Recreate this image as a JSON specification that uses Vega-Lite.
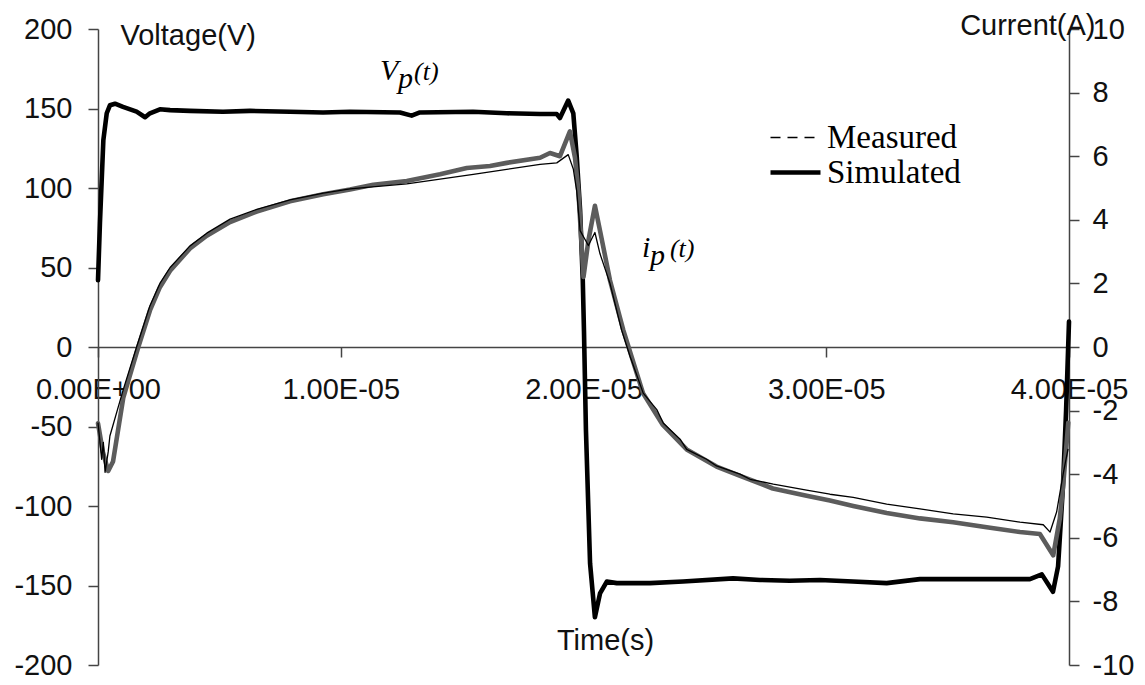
{
 "$schema": "https://vega.github.io/schema/vega-lite/v6.json",
 "width": 971,
 "height": 636,
 "autosize": {"type": "none"},
 "padding": {"left": 98, "top": 29, "right": 76, "bottom": 20},
 "background": "white",
 "config": {
  "view": {"stroke": null},
  "font": "Liberation Sans",
  "axis": {"grid": false, "labelFont": "Liberation Sans", "titleFont": "Liberation Sans", "labelFontSize": 29, "titleFontSize": 29, "titleFontWeight": "normal", "labelColor": "#111111", "titleColor": "#111111", "domainColor": "#444444", "tickColor": "#444444", "domainWidth": 1.5, "tickWidth": 1.5, "tickSize": 10, "labelFlush": false, "labelOverlap": false, "labelBound": false}
 },
 "datasets": {
  "traces": [
   {"t": 0, "value": 42, "q": "V", "source": "Simulated"},
   {"t": 0.08e-6, "value": 78, "q": "V", "source": "Simulated"},
   {"t": 0.22e-6, "value": 130, "q": "V", "source": "Simulated"},
   {"t": 0.36e-6, "value": 147, "q": "V", "source": "Simulated"},
   {"t": 0.49e-6, "value": 152, "q": "V", "source": "Simulated"},
   {"t": 0.70e-6, "value": 153, "q": "V", "source": "Simulated"},
   {"t": 1.03e-6, "value": 151, "q": "V", "source": "Simulated"},
   {"t": 1.59e-6, "value": 148, "q": "V", "source": "Simulated"},
   {"t": 1.94e-6, "value": 144.5, "q": "V", "source": "Simulated"},
   {"t": 2.14e-6, "value": 147, "q": "V", "source": "Simulated"},
   {"t": 2.55e-6, "value": 149.5, "q": "V", "source": "Simulated"},
   {"t": 2.97e-6, "value": 149, "q": "V", "source": "Simulated"},
   {"t": 3.79e-6, "value": 148.5, "q": "V", "source": "Simulated"},
   {"t": 5.15e-6, "value": 148, "q": "V", "source": "Simulated"},
   {"t": 6.26e-6, "value": 148.5, "q": "V", "source": "Simulated"},
   {"t": 7.91e-6, "value": 148, "q": "V", "source": "Simulated"},
   {"t": 9.27e-6, "value": 147.5, "q": "V", "source": "Simulated"},
   {"t": 10.38e-6, "value": 148, "q": "V", "source": "Simulated"},
   {"t": 12.44e-6, "value": 147.5, "q": "V", "source": "Simulated"},
   {"t": 12.92e-6, "value": 145.5, "q": "V", "source": "Simulated"},
   {"t": 13.26e-6, "value": 147.5, "q": "V", "source": "Simulated"},
   {"t": 15.45e-6, "value": 148, "q": "V", "source": "Simulated"},
   {"t": 16.84e-6, "value": 147, "q": "V", "source": "Simulated"},
   {"t": 18.21e-6, "value": 146.5, "q": "V", "source": "Simulated"},
   {"t": 18.90e-6, "value": 146.5, "q": "V", "source": "Simulated"},
   {"t": 19.03e-6, "value": 144, "q": "V", "source": "Simulated"},
   {"t": 19.37e-6, "value": 155, "q": "V", "source": "Simulated"},
   {"t": 19.58e-6, "value": 147, "q": "V", "source": "Simulated"},
   {"t": 19.72e-6, "value": 120, "q": "V", "source": "Simulated"},
   {"t": 19.86e-6, "value": 86, "q": "V", "source": "Simulated"},
   {"t": 19.97e-6, "value": 42, "q": "V", "source": "Simulated"},
   {"t": 20.02e-6, "value": 10, "q": "V", "source": "Simulated"},
   {"t": 20.10e-6, "value": -52, "q": "V", "source": "Simulated"},
   {"t": 20.27e-6, "value": -136, "q": "V", "source": "Simulated"},
   {"t": 20.47e-6, "value": -170, "q": "V", "source": "Simulated"},
   {"t": 20.68e-6, "value": -155, "q": "V", "source": "Simulated"},
   {"t": 20.96e-6, "value": -147.5, "q": "V", "source": "Simulated"},
   {"t": 21.37e-6, "value": -148.5, "q": "V", "source": "Simulated"},
   {"t": 22.74e-6, "value": -148.5, "q": "V", "source": "Simulated"},
   {"t": 24.10e-6, "value": -147.5, "q": "V", "source": "Simulated"},
   {"t": 26.16e-6, "value": -145.5, "q": "V", "source": "Simulated"},
   {"t": 27.27e-6, "value": -146.5, "q": "V", "source": "Simulated"},
   {"t": 28.5e-6, "value": -147, "q": "V", "source": "Simulated"},
   {"t": 29.74e-6, "value": -146.5, "q": "V", "source": "Simulated"},
   {"t": 31.10e-6, "value": -147.5, "q": "V", "source": "Simulated"},
   {"t": 32.49e-6, "value": -148.5, "q": "V", "source": "Simulated"},
   {"t": 33.86e-6, "value": -146, "q": "V", "source": "Simulated"},
   {"t": 38.39e-6, "value": -146, "q": "V", "source": "Simulated"},
   {"t": 38.88e-6, "value": -143, "q": "V", "source": "Simulated"},
   {"t": 39.34e-6, "value": -154, "q": "V", "source": "Simulated"},
   {"t": 39.55e-6, "value": -138, "q": "V", "source": "Simulated"},
   {"t": 39.75e-6, "value": -88, "q": "V", "source": "Simulated"},
   {"t": 39.88e-6, "value": -40, "q": "V", "source": "Simulated"},
   {"t": 40.0e-6, "value": 16, "q": "V", "source": "Simulated"},

   {"t": 0, "value": -2.4, "q": "I", "source": "Simulated"},
   {"t": 0.2e-6, "value": -3.3, "q": "I", "source": "Simulated"},
   {"t": 0.42e-6, "value": -3.9, "q": "I", "source": "Simulated"},
   {"t": 0.62e-6, "value": -3.6, "q": "I", "source": "Simulated"},
   {"t": 1.04e-6, "value": -1.6, "q": "I", "source": "Simulated"},
   {"t": 1.66e-6, "value": 0, "q": "I", "source": "Simulated"},
   {"t": 2.14e-6, "value": 1.15, "q": "I", "source": "Simulated"},
   {"t": 2.55e-6, "value": 1.88, "q": "I", "source": "Simulated"},
   {"t": 2.97e-6, "value": 2.4, "q": "I", "source": "Simulated"},
   {"t": 3.79e-6, "value": 3.1, "q": "I", "source": "Simulated"},
   {"t": 4.48e-6, "value": 3.5, "q": "I", "source": "Simulated"},
   {"t": 5.44e-6, "value": 3.93, "q": "I", "source": "Simulated"},
   {"t": 6.54e-6, "value": 4.26, "q": "I", "source": "Simulated"},
   {"t": 7.91e-6, "value": 4.58, "q": "I", "source": "Simulated"},
   {"t": 9.28e-6, "value": 4.8, "q": "I", "source": "Simulated"},
   {"t": 10.38e-6, "value": 4.95, "q": "I", "source": "Simulated"},
   {"t": 11.34e-6, "value": 5.1, "q": "I", "source": "Simulated"},
   {"t": 12.72e-6, "value": 5.22, "q": "I", "source": "Simulated"},
   {"t": 14.09e-6, "value": 5.43, "q": "I", "source": "Simulated"},
   {"t": 15.19e-6, "value": 5.63, "q": "I", "source": "Simulated"},
   {"t": 16.15e-6, "value": 5.69, "q": "I", "source": "Simulated"},
   {"t": 16.84e-6, "value": 5.79, "q": "I", "source": "Simulated"},
   {"t": 18.21e-6, "value": 5.95, "q": "I", "source": "Simulated"},
   {"t": 18.62e-6, "value": 6.1, "q": "I", "source": "Simulated"},
   {"t": 19.03e-6, "value": 6.0, "q": "I", "source": "Simulated"},
   {"t": 19.44e-6, "value": 6.78, "q": "I", "source": "Simulated"},
   {"t": 19.65e-6, "value": 5.95, "q": "I", "source": "Simulated"},
   {"t": 19.79e-6, "value": 4.9, "q": "I", "source": "Simulated"},
   {"t": 20.0e-6, "value": 2.2, "q": "I", "source": "Simulated"},
   {"t": 20.2e-6, "value": 3.34, "q": "I", "source": "Simulated"},
   {"t": 20.47e-6, "value": 4.44, "q": "I", "source": "Simulated"},
   {"t": 20.68e-6, "value": 3.66, "q": "I", "source": "Simulated"},
   {"t": 21.09e-6, "value": 2.1, "q": "I", "source": "Simulated"},
   {"t": 21.64e-6, "value": 0.53, "q": "I", "source": "Simulated"},
   {"t": 22.45e-6, "value": -1.45, "q": "I", "source": "Simulated"},
   {"t": 23.27e-6, "value": -2.45, "q": "I", "source": "Simulated"},
   {"t": 24.25e-6, "value": -3.22, "q": "I", "source": "Simulated"},
   {"t": 25.48e-6, "value": -3.76, "q": "I", "source": "Simulated"},
   {"t": 26.45e-6, "value": -4.05, "q": "I", "source": "Simulated"},
   {"t": 27.8e-6, "value": -4.45, "q": "I", "source": "Simulated"},
   {"t": 29.19e-6, "value": -4.68, "q": "I", "source": "Simulated"},
   {"t": 30.15e-6, "value": -4.83, "q": "I", "source": "Simulated"},
   {"t": 31.11e-6, "value": -5.0, "q": "I", "source": "Simulated"},
   {"t": 32.49e-6, "value": -5.22, "q": "I", "source": "Simulated"},
   {"t": 33.86e-6, "value": -5.39, "q": "I", "source": "Simulated"},
   {"t": 35.23e-6, "value": -5.51, "q": "I", "source": "Simulated"},
   {"t": 36.61e-6, "value": -5.67, "q": "I", "source": "Simulated"},
   {"t": 37.98e-6, "value": -5.82, "q": "I", "source": "Simulated"},
   {"t": 38.8e-6, "value": -5.88, "q": "I", "source": "Simulated"},
   {"t": 39.35e-6, "value": -6.55, "q": "I", "source": "Simulated"},
   {"t": 39.62e-6, "value": -5.4, "q": "I", "source": "Simulated"},
   {"t": 39.77e-6, "value": -4.25, "q": "I", "source": "Simulated"},
   {"t": 39.97e-6, "value": -2.38, "q": "I", "source": "Simulated"},

   {"t": 0, "value": -2.38, "q": "I", "source": "Measured"},
   {"t": 0.15e-6, "value": -3.53, "q": "I", "source": "Measured"},
   {"t": 0.22e-6, "value": -3.0, "q": "I", "source": "Measured"},
   {"t": 0.29e-6, "value": -3.94, "q": "I", "source": "Measured"},
   {"t": 0.42e-6, "value": -3.3, "q": "I", "source": "Measured"},
   {"t": 0.49e-6, "value": -2.8, "q": "I", "source": "Measured"},
   {"t": 1.04e-6, "value": -1.34, "q": "I", "source": "Measured"},
   {"t": 1.59e-6, "value": 0, "q": "I", "source": "Measured"},
   {"t": 2.14e-6, "value": 1.3, "q": "I", "source": "Measured"},
   {"t": 2.55e-6, "value": 2.0, "q": "I", "source": "Measured"},
   {"t": 2.97e-6, "value": 2.5, "q": "I", "source": "Measured"},
   {"t": 3.79e-6, "value": 3.18, "q": "I", "source": "Measured"},
   {"t": 4.48e-6, "value": 3.58, "q": "I", "source": "Measured"},
   {"t": 5.44e-6, "value": 4.02, "q": "I", "source": "Measured"},
   {"t": 6.54e-6, "value": 4.33, "q": "I", "source": "Measured"},
   {"t": 7.91e-6, "value": 4.63, "q": "I", "source": "Measured"},
   {"t": 9.28e-6, "value": 4.84, "q": "I", "source": "Measured"},
   {"t": 10.38e-6, "value": 4.97, "q": "I", "source": "Measured"},
   {"t": 12.72e-6, "value": 5.13, "q": "I", "source": "Measured"},
   {"t": 15.46e-6, "value": 5.43, "q": "I", "source": "Measured"},
   {"t": 18.21e-6, "value": 5.74, "q": "I", "source": "Measured"},
   {"t": 18.9e-6, "value": 5.79, "q": "I", "source": "Measured"},
   {"t": 19.37e-6, "value": 6.05, "q": "I", "source": "Measured"},
   {"t": 19.58e-6, "value": 5.6, "q": "I", "source": "Measured"},
   {"t": 19.72e-6, "value": 4.9, "q": "I", "source": "Measured"},
   {"t": 19.86e-6, "value": 3.66, "q": "I", "source": "Measured"},
   {"t": 20.2e-6, "value": 3.19, "q": "I", "source": "Measured"},
   {"t": 20.47e-6, "value": 3.6, "q": "I", "source": "Measured"},
   {"t": 20.68e-6, "value": 2.93, "q": "I", "source": "Measured"},
   {"t": 21.09e-6, "value": 2.0, "q": "I", "source": "Measured"},
   {"t": 21.57e-6, "value": 0.53, "q": "I", "source": "Measured"},
   {"t": 21.92e-6, "value": -0.3, "q": "I", "source": "Measured"},
   {"t": 22.46e-6, "value": -1.45, "q": "I", "source": "Measured"},
   {"t": 23.02e-6, "value": -1.97, "q": "I", "source": "Measured"},
   {"t": 23.29e-6, "value": -2.4, "q": "I", "source": "Measured"},
   {"t": 23.98e-6, "value": -2.9, "q": "I", "source": "Measured"},
   {"t": 24.25e-6, "value": -3.22, "q": "I", "source": "Measured"},
   {"t": 25.07e-6, "value": -3.53, "q": "I", "source": "Measured"},
   {"t": 25.48e-6, "value": -3.74, "q": "I", "source": "Measured"},
   {"t": 26.45e-6, "value": -4.0, "q": "I", "source": "Measured"},
   {"t": 26.86e-6, "value": -4.16, "q": "I", "source": "Measured"},
   {"t": 27.82e-6, "value": -4.31, "q": "I", "source": "Measured"},
   {"t": 29.19e-6, "value": -4.5, "q": "I", "source": "Measured"},
   {"t": 30.15e-6, "value": -4.63, "q": "I", "source": "Measured"},
   {"t": 31.11e-6, "value": -4.73, "q": "I", "source": "Measured"},
   {"t": 32.49e-6, "value": -4.94, "q": "I", "source": "Measured"},
   {"t": 33.86e-6, "value": -5.09, "q": "I", "source": "Measured"},
   {"t": 35.23e-6, "value": -5.25, "q": "I", "source": "Measured"},
   {"t": 36.61e-6, "value": -5.35, "q": "I", "source": "Measured"},
   {"t": 37.98e-6, "value": -5.51, "q": "I", "source": "Measured"},
   {"t": 38.94e-6, "value": -5.59, "q": "I", "source": "Measured"},
   {"t": 39.22e-6, "value": -5.82, "q": "I", "source": "Measured"},
   {"t": 39.49e-6, "value": -5.19, "q": "I", "source": "Measured"},
   {"t": 39.77e-6, "value": -3.95, "q": "I", "source": "Measured"},
   {"t": 39.96e-6, "value": -3.2, "q": "I", "source": "Measured"}
  ]
 },
 "data": {"name": "traces"},
 "layer": [
  {
   "layer": [
    {
     "mark": {"type": "line", "color": "black", "strokeJoin": "round", "strokeCap": "round"},
     "transform": [{"filter": "datum.q == 'V'"}],
     "encoding": {
      "x": {"field": "t", "type": "quantitative", "scale": {"domain": [0, 0.00004], "nice": false, "zero": false},
       "axis": {"orient": "bottom", "offset": -318, "values": [0, 0.00001, 0.00002, 0.00003, 0.00004], "labelExpr": "datum.value == 0 ? '0.00E+00' : format(datum.value * 100000, '.2f') + 'E-05'", "labelPadding": 18, "labelAlign": "center", "title": "Time(s)", "titleX": 507, "titleY": 293, "titleAlign": "center", "titleBaseline": "middle", "titleAnchor": null}},
      "y": {"field": "value", "type": "quantitative", "scale": {"domain": [-200, 200], "nice": false, "zero": false},
       "axis": {"orient": "left", "values": [-200, -150, -100, -50, 0, 50, 100, 150, 200], "labelExpr": "'' + datum.value", "labelPadding": 16, "title": "Voltage(V)", "titleAngle": 0, "titleX": 22, "titleY": 6, "titleAlign": "left", "titleBaseline": "middle"}},
      "strokeWidth": {"field": "source", "type": "ordinal", "scale": {"domain": ["Measured", "Simulated"], "range": [1.3, 4.6]},
       "legend": {"orient": "none", "legendX": 681, "legendY": 92, "title": null, "direction": "vertical", "symbolType": "M-2,0H2", "symbolSize": 625, "symbolStrokeColor": "black", "symbolFillColor": "transparent", "labelFont": "Liberation Serif", "labelFontSize": 33, "labelColor": "black", "labelOffset": 15, "rowPadding": 1, "padding": 0, "symbolOffset": 0, "labelLimit": 400,
        "encode": {"symbols": {"update": {"strokeDash": {"signal": "datum.value == 'Measured' ? [10, 7] : [1, 0]"}}}}}}
     }
    },
    {
     "data": {"values": [{}]},
     "mark": {"type": "text", "text": "V", "font": "Liberation Serif", "fontStyle": "italic", "fontSize": 30, "align": "left", "baseline": "alphabetic", "color": "black"},
     "encoding": {"x": {"datum": 0.00001162, "type": "quantitative"}, "y": {"datum": 167.9, "type": "quantitative"}}
    },
    {
     "data": {"values": [{}]},
     "mark": {"type": "text", "text": "p", "font": "Liberation Serif", "fontStyle": "italic", "fontSize": 30, "align": "left", "baseline": "alphabetic", "color": "black"},
     "encoding": {"x": {"datum": 0.00001236, "type": "quantitative"}, "y": {"datum": 162.9, "type": "quantitative"}}
    },
    {
     "data": {"values": [{}]},
     "mark": {"type": "text", "text": "(t)", "font": "Liberation Serif", "fontStyle": "italic", "fontSize": 26, "align": "left", "baseline": "alphabetic", "color": "black"},
     "encoding": {"x": {"datum": 0.00001302, "type": "quantitative"}, "y": {"datum": 167.9, "type": "quantitative"}}
    },
    {
     "data": {"values": [{}]},
     "mark": {"type": "text", "text": "i", "font": "Liberation Serif", "fontStyle": "italic", "fontSize": 30, "align": "left", "baseline": "alphabetic", "color": "black"},
     "encoding": {"x": {"datum": 0.00002241, "type": "quantitative"}, "y": {"datum": 56.6, "type": "quantitative"}}
    },
    {
     "data": {"values": [{}]},
     "mark": {"type": "text", "text": "p", "font": "Liberation Serif", "fontStyle": "italic", "fontSize": 30, "align": "left", "baseline": "alphabetic", "color": "black"},
     "encoding": {"x": {"datum": 0.00002274, "type": "quantitative"}, "y": {"datum": 51.6, "type": "quantitative"}}
    },
    {
     "data": {"values": [{}]},
     "mark": {"type": "text", "text": "(t)", "font": "Liberation Serif", "fontStyle": "italic", "fontSize": 26, "align": "left", "baseline": "alphabetic", "color": "black"},
     "encoding": {"x": {"datum": 0.00002356, "type": "quantitative"}, "y": {"datum": 56.6, "type": "quantitative"}}
    }
   ]
  },
  {
   "layer": [
    {
     "mark": {"type": "line", "color": "#5c5c5c", "strokeJoin": "round", "strokeCap": "round"},
     "transform": [{"filter": "datum.q == 'I' && datum.source == 'Simulated'"}],
     "encoding": {
      "x": {"field": "t", "type": "quantitative"},
      "y": {"field": "value", "type": "quantitative", "scale": {"domain": [-10, 10], "nice": false, "zero": false},
       "axis": {"orient": "right", "values": [-10, -8, -6, -4, -2, 0, 2, 4, 6, 8, 10], "labelExpr": "'' + datum.value", "labelPadding": 13, "title": "Current(A)", "titleAngle": 0, "titleX": 26, "titleY": -4, "titleAlign": "right", "titleBaseline": "middle"}},
      "strokeWidth": {"field": "source", "type": "ordinal"}
     }
    },
    {
     "mark": {"type": "line", "color": "black", "strokeJoin": "round"},
     "transform": [{"filter": "datum.q == 'I' && datum.source == 'Measured'"}],
     "encoding": {
      "x": {"field": "t", "type": "quantitative"},
      "y": {"field": "value", "type": "quantitative"},
      "strokeWidth": {"field": "source", "type": "ordinal"}
     }
    }
   ]
  }
 ],
 "resolve": {"scale": {"y": "independent"}}
}
